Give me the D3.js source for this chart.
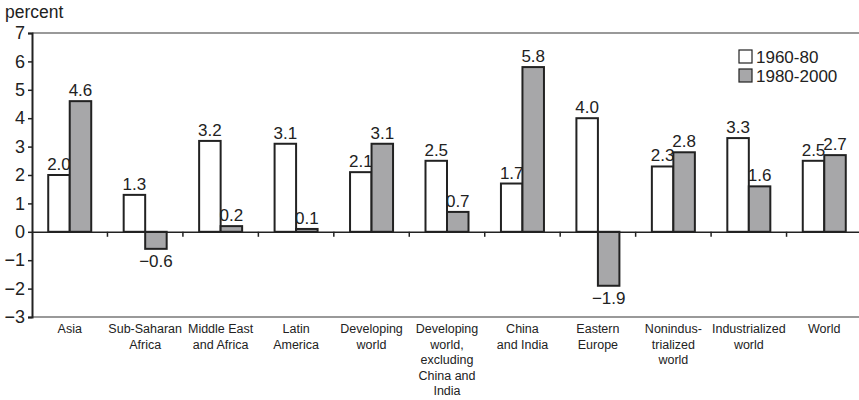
<!DOCTYPE html>
<html><head><meta charset="utf-8">
<script src="https://cdn.jsdelivr.net/npm/d3@7"></script>
<style>body{margin:0;background:#fff}svg{display:block}text{font-family:"Liberation Sans",Arial,sans-serif;fill:#222}</style>
</head><body><svg id="c" width="859" height="400"></svg>
<script>
const categories = ["Asia","Sub-Saharan|Africa","Middle East|and Africa","Latin|America","Developing|world","Developing|world,|excluding|China and|India","China|and India","Eastern|Europe","Nonindus-|trialized|world","Industrialized|world","World"];
const series1960 = [2.0,1.3,3.2,3.1,2.1,2.5,1.7,4.0,2.3,3.3,2.5];
const series1980 = [4.6,-0.6,0.2,0.1,3.1,0.7,5.8,-1.9,2.8,1.6,2.7];
const seriesNames = ["1960-80","1980-2000"];
const yTicks = [7,6,5,4,3,2,1,0,-1,-2,-3];

const svg = d3.select("#c");
const L = 32, R = 862, T = 33, B = 317;
const x = d3.scaleBand().domain(categories.map((d,i)=>i)).range([L,R]).paddingInner(0).paddingOuter(0);
const y = d3.scaleLinear().domain([-3,7]).range([B,T]);
const bw = 21.5;
const fmt = v => (v<0?"\u2212":"") + Math.abs(v).toFixed(1);
function fmtY(v){return (v<0?"\u2212":"")+Math.abs(v);}

svg.append("line").attr("x1",L).attr("x2",R).attr("y1",y(7)).attr("y2",y(7)).attr("stroke","#999").attr("stroke-width",2);
svg.append("line").attr("x1",L).attr("x2",R).attr("y1",y(-3)).attr("y2",y(-3)).attr("stroke","#999").attr("stroke-width",2);

const ya = svg.append("g").attr("transform",`translate(${L},0)`).call(d3.axisLeft(y).tickValues(yTicks).tickSize(4).tickFormat(fmtY));
ya.select(".domain").attr("stroke","#222").attr("stroke-width",2);
ya.selectAll(".tick line").attr("stroke","#222").attr("stroke-width",1.5);
ya.selectAll(".tick text").attr("font-size",18).attr("x",-7).attr("fill","#222").attr("font-family","Liberation Sans, Arial, sans-serif");

svg.append("text").attr("x",5).attr("y",18).attr("font-size",17.5).text("percent");

const data = categories.map((c,i)=>({i, a:series1960[i], b:series1980[i]}));
const g = svg.append("g");
data.forEach(d=>{
  const cx = x(d.i) + x.bandwidth()/2;
  [[d.a,"#fff",cx-bw],[d.b,"#a7a7a9",cx]].forEach(([v,fill,x0])=>{
    g.append("rect").attr("x",x0).attr("width",bw)
      .attr("y",y(Math.max(0,v))).attr("height",Math.abs(y(v)-y(0)))
      .attr("fill",fill).attr("stroke","#222").attr("stroke-width",2);
    g.append("text").attr("x",x0+bw/2).attr("text-anchor","middle").attr("font-size",17)
      .attr("y", v>=0 ? y(v)-5 : y(v)+18).text(fmt(v));
  });
});

const xa = svg.append("g").attr("transform",`translate(0,${y(0)})`)
  .call(d3.axisBottom(x).tickSize(0).tickFormat(""));
xa.select(".domain").attr("stroke","#222").attr("stroke-width",1.5);
categories.forEach((c,i)=>{ if(i>0) svg.append("line").attr("x1",x(i)).attr("x2",x(i)).attr("y1",y(0)).attr("y2",y(0)+5).attr("stroke","#222").attr("stroke-width",1.5); });

categories.forEach((c,i)=>{
  const t = svg.append("text").attr("text-anchor","middle").attr("font-size",12.5)
    .attr("x", x(i)+x.bandwidth()/2).attr("y",333);
  c.split("|").forEach((ln,k)=>t.append("tspan").attr("x",x(i)+x.bandwidth()/2).attr("dy",k?15.5:0).text(ln));
});

const lg = svg.append("g").attr("transform","translate(739,50)");
[["#fff",seriesNames[0]],["#a7a7a9",seriesNames[1]]].forEach(([f,n],k)=>{
  lg.append("rect").attr("x",0).attr("y",k*19).attr("width",13).attr("height",13).attr("fill",f).attr("stroke","#222").attr("stroke-width",1.2);
  lg.append("text").attr("x",17).attr("y",k*19+13).attr("font-size",17).text(n);
});
</script></body></html>
